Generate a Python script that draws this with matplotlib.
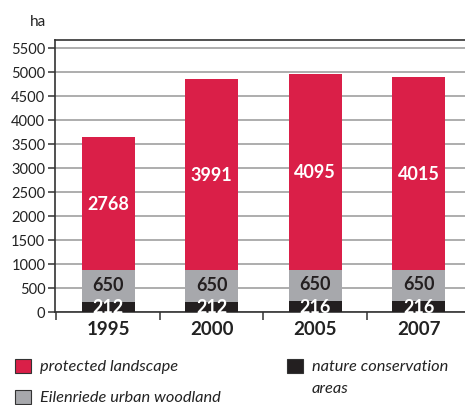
import matplotlib
matplotlib.use("Agg")
import matplotlib.pyplot as plt
from matplotlib.patches import Rectangle

years = ["1995", "2000", "2005", "2007"]
nature = [212, 212, 216, 216]
eilenriede = [650, 650, 650, 650]
protected = [2768, 3991, 4095, 4015]
yticks = list(range(0, 5501, 500))

c_red = "#da1f48"
c_gray = "#a7a8ac"
c_black = "#231f20"

plt.rcParams['font.family'] = ['Lato', 'DejaVu Sans']

fig = plt.figure(figsize=(4.65, 4.06), dpi=100)
ax = fig.add_axes([0.1183, 0.2298, 0.8817 + 0.012, 0.6685])

x = list(range(len(years)))
w = 0.51
ax.bar(x, nature, w, color=c_black, zorder=3)
ax.bar(x, eilenriede, w, bottom=nature, color=c_gray, zorder=3)
b2 = [n + e for n, e in zip(nature, eilenriede)]
ax.bar(x, protected, w, bottom=b2, color=c_red, zorder=3)

for i in x:
    ax.text(i, nature[i] / 2, str(nature[i]), ha='center', va='center',
            color='white', fontsize=13, fontweight='bold', zorder=4)
    ax.text(i, nature[i] + eilenriede[i] / 2 + 40, str(eilenriede[i]), ha='center', va='center',
            color=c_black, fontsize=13, fontweight='bold', zorder=4)
    ax.text(i, b2[i] + protected[i] / 2, str(protected[i]), ha='center', va='center',
            color='white', fontsize=13, fontweight='bold', zorder=4)

ax.set_ylim(0, 5654)
ax.set_xlim(-0.513, 3.5)
ax.set_yticks(yticks)
ax.set_yticklabels([str(v) for v in yticks], fontsize=10.5, color='#222222')
ax.yaxis.grid(True, color='#a0a0a0', linewidth=1.2, zorder=0)
ax.set_axisbelow(True)

ax.set_xticks(x)
ax.set_xticklabels(years, fontsize=13.5, fontweight='bold', color='#222222')
ax.tick_params(axis='x', which='major', length=0, pad=6)
ax.set_xticks([-0.5, 0.5, 1.5, 2.5, 3.5], minor=True)
ax.tick_params(axis='x', which='minor', length=5.5, width=1.1, color='#333333', direction='out')
ax.tick_params(axis='y', length=5, width=1.1, color='#333333', pad=2)

for s in ['left', 'bottom', 'top']:
    ax.spines[s].set_color('#333333')
    ax.spines[s].set_linewidth(1.2)
ax.spines['right'].set_visible(False)

fig.text(30 / 465, 1 - 22 / 406, "ha", fontsize=11, color='#222222', va='center', ha='left')

# legend
def legend_item(px, py, color, label):
    fig.patches.append(Rectangle((px / 465, 1 - (py + 7) / 406), 16 / 465, 14 / 406,
                                 transform=fig.transFigure, facecolor=color,
                                 edgecolor='#333333', linewidth=0.8, figure=fig))
    fig.text((px + 25) / 465, 1 - py / 406, label, fontsize=11.8, style='italic',
             color='#222222', va='center', ha='left')

legend_item(15, 367, c_red, "protected landscape")
legend_item(15, 398, c_gray, "Eilenriede urban woodland")
legend_item(287, 367, c_black, "nature conservation")
fig.text((287 + 25) / 465, 1 - 389 / 406, "areas", fontsize=11.8, style='italic',
         color='#222222', va='center', ha='left')

fig.savefig("out.png", dpi=100)
